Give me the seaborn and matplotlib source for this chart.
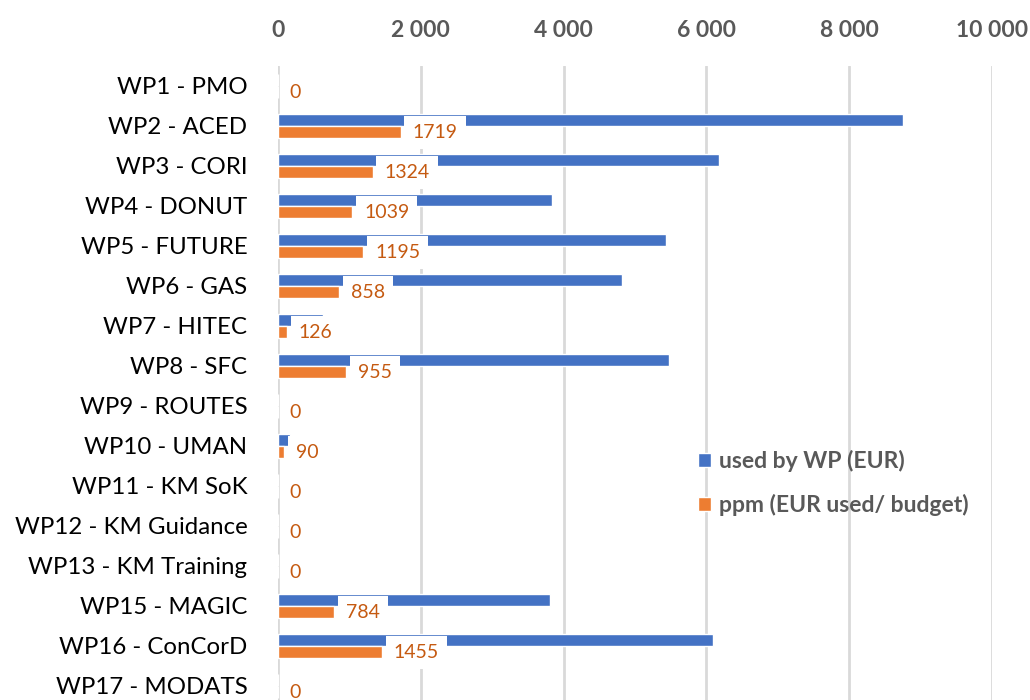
import numpy as np
import pandas as pd
import matplotlib.pyplot as plt
import matplotlib.ticker as mticker
import seaborn as sns

# data
work_packages = ['WP1 - PMO', 'WP2 - ACED', 'WP3 - CORI', 'WP4 - DONUT', 'WP5 - FUTURE',
                 'WP6 - GAS', 'WP7 - HITEC', 'WP8 - SFC', 'WP9 - ROUTES', 'WP10 - UMAN',
                 'WP11 - KM SoK', 'WP12 - KM Guidance', 'WP13 - KM Training',
                 'WP15 - MAGIC', 'WP16 - ConCorD', 'WP17 - MODATS']
used_eur = [0, 8750, 6180, 3840, 5430, 4820, 630, 5470, 0, 170, 0, 0, 0, 3810, 6090, 0]
ppm = [0, 1719, 1324, 1039, 1195, 858, 126, 955, 0, 90, 0, 0, 0, 784, 1455, 0]
series_names = ['used by WP (EUR)', 'ppm (EUR used/ budget)']

BLUE = '#4472C4'
ORANGE = '#ED7D31'
LABEL_ORANGE = '#C55A11'
GREY = '#595959'

df = pd.DataFrame({
    'wp': work_packages * 2,
    'value': used_eur + ppm,
    'series': [series_names[0]] * len(work_packages) + [series_names[1]] * len(work_packages),
})

sns.set_style('white')
plt.rcParams['font.family'] = ['Lato', 'DejaVu Sans']

fig = plt.figure(figsize=(10.3, 7.0), dpi=100)
ax = fig.add_axes([278 / 1030, -6 / 700, (992 - 278) / 1030, (706 - 66) / 700])

sns.barplot(data=df, y='wp', x='value', hue='series', orient='h',
            palette=[BLUE, ORANGE], width=0.58, saturation=1,
            hue_order=series_names, order=work_packages, ax=ax, zorder=2)

# orange bars on top of the white label boxes
orange_bars = ax.containers[1]
for bar in orange_bars:
    bar.set_zorder(4)

# data labels for the ppm series (white box covers part of the blue bar)
for bar, val in zip(orange_bars, ppm):
    yc = bar.get_y() + bar.get_height() / 2
    ax.annotate(f'{val}', xy=(val, yc), xytext=(8.5, -0.5), textcoords='offset points',
                ha='left', va='center', fontsize=14, color=LABEL_ORANGE, zorder=3,
                bbox=dict(boxstyle='square,pad=0.42', fc='white', ec='none'))

ax.set_xlim(0, 10000)
ax.set_ylim(15.5, -0.5)
ax.xaxis.set_major_locator(mticker.MultipleLocator(2000))
ax.xaxis.set_major_formatter(mticker.FuncFormatter(lambda v, p: f'{int(v):,}'.replace(',', ' ')))
ax.xaxis.tick_top()
ax.tick_params(axis='x', length=0, pad=18, labelsize=16.5, labelcolor=GREY)
for lbl in ax.get_xticklabels():
    lbl.set_fontweight('bold')
ax.tick_params(axis='y', length=0, pad=22, labelsize=17.3, labelcolor='black')

ax.grid(axis='x', color='#D9D9D9', linewidth=2, zorder=0)
ax.set_axisbelow(True)
for side in ['top', 'right', 'bottom', 'left']:
    ax.spines[side].set_visible(False)
ax.set_xlabel('')
ax.set_ylabel('')

handles, labels = ax.get_legend_handles_labels()
ax.legend(handles, labels, loc='upper left', bbox_to_anchor=(0.56, 0.432),
          frameon=False, handlelength=0.55, handleheight=0.55, handletextpad=0.35,
          labelspacing=0.95, prop={'size': 16.5, 'weight': 'bold'}, labelcolor=GREY)

fig.savefig('out.png', dpi=100)
